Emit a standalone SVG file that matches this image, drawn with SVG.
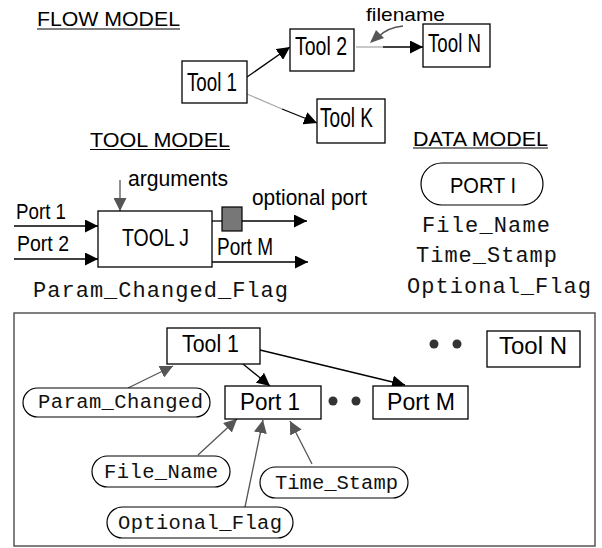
<svg xmlns="http://www.w3.org/2000/svg" width="602" height="548" viewBox="0 0 602 548">
<style>
.bx{fill:#fff;stroke:#000;stroke-width:1.3}
.pill{fill:#fff;stroke:#000;stroke-width:1.2}
.s{font-family:"Liberation Sans",Arial,sans-serif;fill:#000}
.m{font-family:"Liberation Mono","Courier New",monospace;fill:#111}
.k{stroke:#000;stroke-width:1.3;fill:none}
.g{stroke:#555;stroke-width:1.3;fill:none}
.lg{stroke:#aaa;stroke-width:1.3;fill:none}
.ul{stroke:#000;stroke-width:1.2}
</style>
<defs>
<marker id="ak" markerUnits="userSpaceOnUse" markerWidth="14" markerHeight="13" refX="13" refY="6.5" orient="auto"><path d="M0,0 L13,6.5 L0,13 z" fill="#000"/></marker>
<marker id="ag" markerUnits="userSpaceOnUse" markerWidth="14" markerHeight="13" refX="13" refY="6.5" orient="auto"><path d="M0,0 L13,6.5 L0,13 z" fill="#555"/></marker>
</defs>

<g id="titles">
<text class="s" x="37" y="26" font-size="19.5" textLength="143" lengthAdjust="spacingAndGlyphs">FLOW MODEL</text>
<line class="ul" x1="37" y1="29" x2="180" y2="29"/>
<text class="s" x="90" y="147" font-size="19.5" textLength="140" lengthAdjust="spacingAndGlyphs">TOOL MODEL</text>
<line class="ul" x1="90" y1="149.5" x2="230" y2="149.5"/>
<text class="s" x="413" y="146" font-size="19.5" textLength="135" lengthAdjust="spacingAndGlyphs">DATA MODEL</text>
<line class="ul" x1="413" y1="148" x2="548" y2="148"/>
</g>

<g id="connectors">
<line class="k" x1="247" y1="77" x2="290" y2="47" marker-end="url(#ak)"/>
<line class="lg" x1="247" y1="94" x2="282" y2="109"/>
<line class="k" x1="282" y1="109" x2="317" y2="123" marker-end="url(#ak)"/>
<line class="lg" x1="356" y1="47" x2="383" y2="47"/>
<line class="k" x1="383" y1="47" x2="423" y2="47" marker-end="url(#ak)"/>
<path class="g" d="M403,26 C392,27 384,31 378,37"/>
<polygon points="370,43 376,30 384,38" fill="#555"/>
<line class="k" x1="14" y1="226" x2="98" y2="226" marker-end="url(#ak)"/>
<line class="k" x1="14" y1="259" x2="98" y2="259" marker-end="url(#ak)"/>
<line class="g" x1="120" y1="180" x2="120" y2="211" marker-end="url(#ag)"/>
<line class="k" x1="212" y1="221" x2="222" y2="221"/>
<line class="k" x1="242" y1="221" x2="307" y2="221" marker-end="url(#ak)"/>
<line class="k" x1="212" y1="262" x2="308" y2="262" marker-end="url(#ak)"/>
<line class="k" x1="243" y1="364" x2="270" y2="386" marker-end="url(#ak)"/>
<line class="k" x1="260" y1="350" x2="405" y2="385" marker-end="url(#ak)"/>
<line class="g" x1="128" y1="388" x2="173" y2="366" marker-end="url(#ag)"/>
<line class="g" x1="198" y1="455" x2="237" y2="419" marker-end="url(#ag)"/>
<line class="g" x1="245" y1="507" x2="263" y2="420" marker-end="url(#ag)"/>
<line class="g" x1="312" y1="464" x2="290" y2="421" marker-end="url(#ag)"/>
</g>

<g id="flow-tool1"><rect class="bx" x="182" y="61" width="65" height="42"/><text class="s" x="187" y="90.5" font-size="26" textLength="50" lengthAdjust="spacingAndGlyphs">Tool 1</text></g>
<g id="flow-tool2"><rect class="bx" x="290" y="29" width="64" height="42"/><text class="s" x="295" y="55" font-size="26" textLength="52" lengthAdjust="spacingAndGlyphs">Tool 2</text></g>
<g id="flow-toolN"><rect class="bx" x="423" y="24" width="67" height="43"/><text class="s" x="428" y="52" font-size="26" textLength="53" lengthAdjust="spacingAndGlyphs">Tool N</text></g>
<g id="flow-toolK"><rect class="bx" x="317" y="99" width="68" height="44"/><text class="s" x="320" y="127" font-size="27" textLength="53" lengthAdjust="spacingAndGlyphs">Tool K</text></g>
<g id="filename-label"><text class="s" x="366" y="21" font-size="19" textLength="79" lengthAdjust="spacingAndGlyphs">filename</text></g>

<g id="tool-j">
<rect class="bx" x="98" y="211" width="114" height="56"/>
<text class="s" x="122" y="246" font-size="23.5" textLength="67" lengthAdjust="spacingAndGlyphs">TOOL J</text>
</g>
<g id="port-labels">
<text class="s" x="16" y="219" font-size="22" textLength="50" lengthAdjust="spacingAndGlyphs">Port 1</text>
<text class="s" x="17" y="251" font-size="21.5" textLength="52" lengthAdjust="spacingAndGlyphs">Port 2</text>
<text class="s" x="128" y="186" font-size="22" textLength="100" lengthAdjust="spacingAndGlyphs">arguments</text>
<text class="s" x="252" y="205" font-size="22" textLength="115" lengthAdjust="spacingAndGlyphs">optional port</text>
<text class="s" x="217" y="255" font-size="23" textLength="56" lengthAdjust="spacingAndGlyphs">Port M</text>
</g>
<g id="optional-port"><rect x="222" y="207" width="20" height="24" fill="#777" stroke="#000" stroke-width="1.2"/></g>
<g id="param-flag"><text class="m" x="33" y="297" font-size="22" textLength="255" lengthAdjust="spacing">Param_Changed_Flag</text></g>

<g id="port-i">
<rect class="pill" x="421" y="163" width="122" height="42" rx="21"/>
<text class="s" x="450" y="193" font-size="22" textLength="66" lengthAdjust="spacingAndGlyphs">PORT I</text>
</g>
<g id="data-fields">
<text class="m" x="422" y="232" font-size="22" textLength="128" lengthAdjust="spacing">File_Name</text>
<text class="m" x="416" y="262" font-size="22" textLength="141" lengthAdjust="spacing">Time_Stamp</text>
<text class="m" x="407" y="293" font-size="22" textLength="184" lengthAdjust="spacing">Optional_Flag</text>
</g>

<g id="frame"><rect x="14" y="313" width="581" height="233" fill="none" stroke="#555" stroke-width="1.5"/></g>

<g id="b-tool1"><rect class="bx" x="167" y="328" width="93" height="36"/><text class="s" x="182" y="352" font-size="23.5" textLength="57" lengthAdjust="spacingAndGlyphs">Tool 1</text></g>
<g id="b-port1"><rect class="bx" x="225" y="386" width="96" height="33"/><text class="s" x="240" y="410" font-size="23.5" textLength="60" lengthAdjust="spacingAndGlyphs">Port 1</text></g>
<g id="b-portM"><rect class="bx" x="373" y="386" width="95" height="33"/><text class="s" x="387" y="410" font-size="23.5" textLength="68" lengthAdjust="spacingAndGlyphs">Port M</text></g>
<g id="b-toolN"><rect class="bx" x="487" y="331" width="93" height="36"/><text class="s" x="499" y="354" font-size="23.5" textLength="68" lengthAdjust="spacingAndGlyphs">Tool N</text></g>

<g id="dots" fill="#333">
<circle cx="434" cy="344" r="4.5"/><circle cx="457" cy="344" r="4.5"/>
<circle cx="333" cy="401" r="4.5"/><circle cx="356" cy="401" r="4.5"/>
</g>

<g id="b-param"><rect class="pill" x="23" y="388" width="187" height="29" rx="14.5"/><text class="m" x="38" y="407.5" font-size="20.5" textLength="165" lengthAdjust="spacing">Param_Changed</text></g>
<g id="b-filename"><rect class="pill" x="92" y="456" width="138" height="31" rx="15.5"/><text class="m" x="104" y="477.5" font-size="20.5" textLength="114" lengthAdjust="spacing">File_Name</text></g>
<g id="b-timestamp"><rect class="pill" x="260" y="467" width="148" height="31" rx="15.5"/><text class="m" x="275" y="488.5" font-size="20.5" textLength="123" lengthAdjust="spacing">Time_Stamp</text></g>
<g id="b-optional"><rect class="pill" x="107" y="507" width="186" height="31" rx="15.5"/><text class="m" x="118" y="528.5" font-size="20.5" textLength="164" lengthAdjust="spacing">Optional_Flag</text></g>
</svg>
